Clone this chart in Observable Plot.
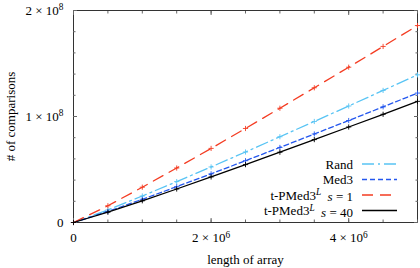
<!DOCTYPE html>
<html>
<head>
<meta charset="utf-8">
<script src="https://cdn.jsdelivr.net/npm/d3@7"></script>
<script src="https://cdn.jsdelivr.net/npm/@observablehq/plot@0.6"></script>
<style>
  html, body { margin: 0; padding: 0; background: #fff; }
  #chart { width: 420px; height: 268px; }
</style>
</head>
<body>
<div id="chart"></div>
<script>
const lengths = [0, 0.5e6, 1e6, 1.5e6, 2e6, 2.5e6, 3e6, 3.5e6, 4e6, 4.5e6, 5e6];
const rand  = [0, 0.118e8, 0.250e8, 0.386e8, 0.524e8, 0.665e8, 0.809e8, 0.953e8, 1.099e8, 1.246e8, 1.393e8];
const med3  = [0, 0.104e8, 0.219e8, 0.338e8, 0.459e8, 0.583e8, 0.708e8, 0.835e8, 0.962e8, 1.091e8, 1.221e8];
const tpS1  = [0, 0.158e8, 0.333e8, 0.514e8, 0.699e8, 0.887e8, 1.078e8, 1.271e8, 1.465e8, 1.661e8, 1.858e8];
const tpS40 = [0, 0.097e8, 0.205e8, 0.316e8, 0.430e8, 0.546e8, 0.663e8, 0.782e8, 0.901e8, 1.021e8, 1.143e8];

const seriesNames = ["Rand", "Med3", "t-PMed3L s = 1", "t-PMed3L s = 40"];
const seriesValues = [rand, med3, tpS1, tpS40];
const seriesColors = ["#58c4f4", "#2457ee", "#f43c22", "#000000"];
const seriesDash = ["12,4,2,4", "5,3", "11,7", null];

const xMajor = [0, 2e6, 4e6];
const xMinor = d3.range(0, 5e6 + 1, 0.5e6);
const yMajor = [0, 1e8, 2e8];
const yMinor = d3.range(0, 2e8 + 1, 0.2e8);

const rows = [];
seriesValues.forEach((vals, i) => vals.forEach((v, j) => rows.push({series: seriesNames[i], n: lengths[j], c: v, k: i})));

function sciFmt(d) {
  if (d === 0) return "0";
  const e = Math.floor(Math.log10(d) + 1e-9);
  const m = Math.round(d / Math.pow(10, e));
  return `${m} × 10^${e}`;
}

const font = "Liberation Serif";

const marks = [
  Plot.frame({stroke: "#333", strokeWidth: 1}),
  Plot.axisX({ticks: xMinor, tickSize: -2.5, tickFormat: () => "", stroke: "#666", label: null}),
  Plot.axisX({anchor: "top", ticks: xMinor, tickSize: -2.5, tickFormat: () => "", stroke: "#666", label: null}),
  Plot.axisY({ticks: yMinor, tickSize: -2.5, tickFormat: () => "", stroke: "#666", label: null}),
  Plot.axisY({anchor: "right", ticks: yMinor, tickSize: -2.5, tickFormat: () => "", stroke: "#666", label: null}),
  Plot.axisX({ticks: xMajor, tickSize: -4, tickPadding: 14, tickFormat: sciFmt, stroke: "#666",
    label: "length of array", labelAnchor: "center", labelOffset: 41, labelArrow: "none"}),
  Plot.axisX({anchor: "top", ticks: xMajor, tickSize: -4, tickFormat: () => "", stroke: "#666", label: null}),
  Plot.axisY({ticks: yMajor, tickSize: -4, tickPadding: 14, tickFormat: sciFmt, stroke: "#666",
    label: "# of comparisons", labelAnchor: "center", labelOffset: 68, labelArrow: "none"}),
  Plot.axisY({anchor: "right", ticks: yMajor, tickSize: -4, tickFormat: () => "", stroke: "#666", label: null}),
];

seriesNames.forEach((name, i) => {
  const data = rows.filter(r => r.k === i);
  marks.push(Plot.line(data, {x: "n", y: "c", stroke: seriesColors[i], strokeWidth: 1.3,
    strokeDasharray: seriesDash[i] || undefined}));
  marks.push(Plot.dot(data, {x: "n", y: "c", symbol: "plus", r: 1.8, stroke: seriesColors[i], strokeWidth: 0.9}));
});

const chart = Plot.plot({
  width: 420,
  height: 268,
  marginLeft: 73,
  marginRight: 3,
  marginTop: 10,
  marginBottom: 46,
  style: {fontFamily: font, fontSize: "13px", color: "#000", background: "#fff"},
  x: {domain: [0, 5e6]},
  y: {domain: [0, 2e8]},
  marks
});

document.getElementById("chart").appendChild(chart);

const svg = d3.select(chart);
svg.selectAll("text").each(function () {
  const t = this.textContent;
  if (t.includes("^")) {
    const [base, exp] = t.split("^");
    const sel = d3.select(this);
    sel.text(null);
    sel.append("tspan").text(base);
    sel.append("tspan").attr("dy", "-0.45em").attr("font-size", "0.72em").text(exp);
  }
});

const leg = svg.append("g");
const legendY = [164, 179.5, 195, 210.5];
const textX = 353, lineX1 = 362, lineX2 = 397;
seriesNames.forEach((name, i) => {
  const y = legendY[i];
  const t = leg.append("text").attr("x", textX).attr("y", y).attr("dy", "0.35em").attr("text-anchor", "end").attr("fill", "#000");
  if (name.startsWith("t-PMed3L")) {
    const s = name.split(" s = ")[1];
    t.append("tspan").text("t-PMed3");
    t.append("tspan").attr("dy", "-0.45em").attr("font-size", "0.72em").attr("font-style", "italic").text("L");
    t.append("tspan").attr("dy", "0.45em").text("  ");
    t.append("tspan").attr("font-style", "italic").text("s");
    t.append("tspan").text(" = " + s);
  } else {
    t.text(name);
  }
  const ln = leg.append("line").attr("x1", lineX1).attr("x2", lineX2).attr("y1", y).attr("y2", y)
    .attr("stroke", seriesColors[i]).attr("stroke-width", 1.3);
  if (seriesDash[i]) ln.attr("stroke-dasharray", seriesDash[i]);
});
</script>
</body>
</html>
